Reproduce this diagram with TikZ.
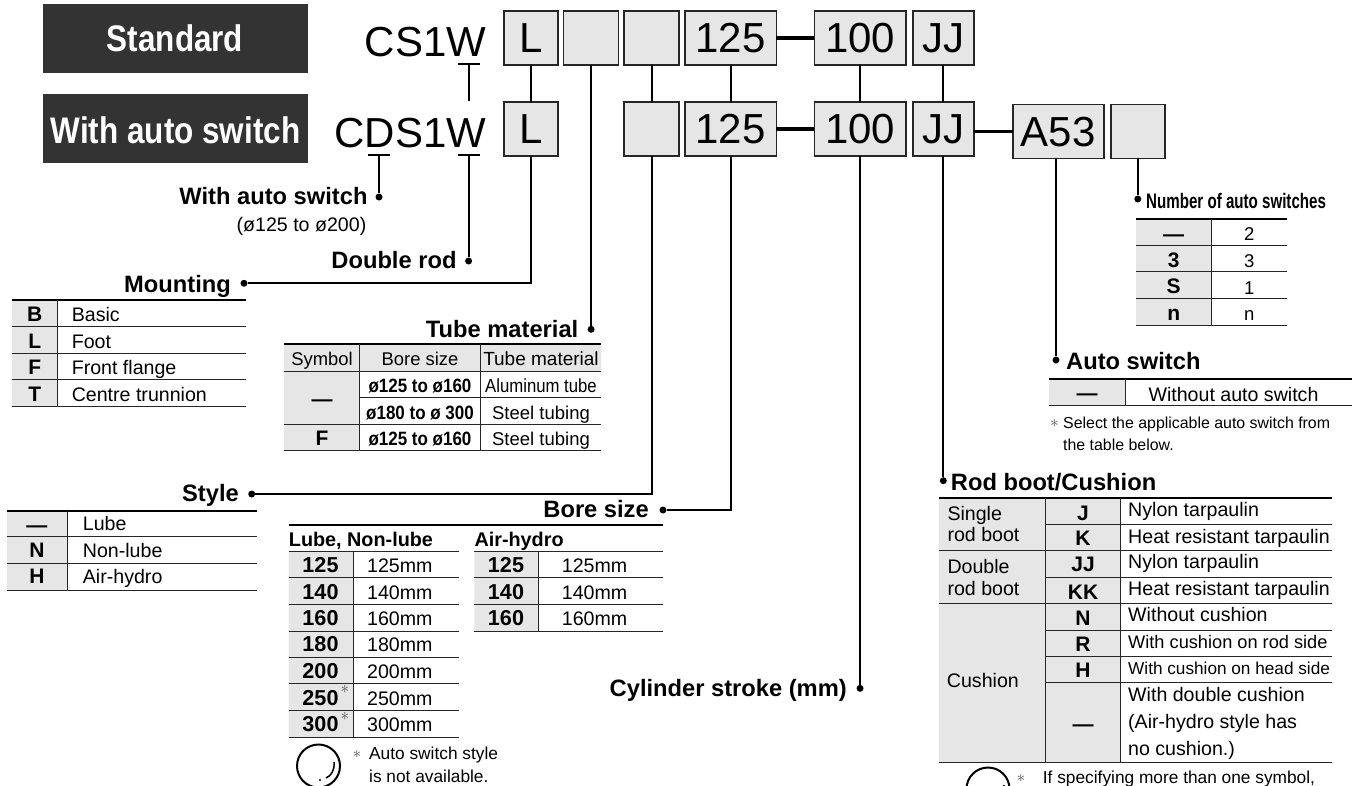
\documentclass[tikz,border=0pt]{standalone}
\usepackage{fontspec}
\setmainfont{Liberation Sans}
\newfontfamily\bannerfont[FakeStretch=.85]{Liberation Sans}
\newfontfamily\narrowfont[FakeStretch=.88]{Liberation Sans}
\newfontfamily\numberfont[FakeStretch=.72]{Liberation Sans}
\usetikzlibrary{positioning}
\definecolor{cylbanner}{HTML}{333333}
\definecolor{cylcell}{HTML}{E6E6E6}
\definecolor{cylstar}{HTML}{555555}
\begin{document}
\begin{tikzpicture}[
    x=1pt, y=-1pt,
    banner/.style={rectangle, fill=cylbanner, minimum width=265pt, minimum height=69pt, inner sep=0, outer sep=0},
    bannertext/.style={inner sep=0, anchor=base, text=white, font=\fontsize{37}{40}\bannerfont\bfseries},
    model/.style={inner sep=0, anchor=base east, font=\fontsize{42}{44}\selectfont},
    box/.style={rectangle, draw=black!85, line width=1.6pt, fill=cylcell, minimum height=53.7pt, inner sep=0, outer sep=0,
      text height=30pt, text depth=0pt, font=\fontsize{42}{44}\selectfont},
    wire/.style={line width=2.1pt},
    hyphen/.style={line width=3.6pt},
    bar/.style={rectangle, fill=black, minimum width=22pt, minimum height=1.8pt, inner sep=0, outer sep=0},
    dot/.style={circle, fill=black, minimum size=7pt, inner sep=0},
    head/.style={inner sep=0, anchor=base east, font=\fontsize{23.7}{26}\selectfont\bfseries},
    headl/.style={head, anchor=base west},
    code/.style={inner sep=0, anchor=base, font=\fontsize{21}{24}\selectfont\bfseries},
    txt/.style={inner sep=0, anchor=base west, font=\fontsize{19.6}{22}\selectfont},
    midtxt/.style={txt, anchor=base},
    small/.style={inner sep=0, anchor=base west, font=\fontsize{17.3}{20}\selectfont},
    starmark/.style={inner sep=0, text=cylstar, font=\fontsize{17}{18}\selectfont},
    toprule/.style={line width=2.2pt},
    rule/.style={line width=1pt, black!85},
    ring/.style={line width=2pt}
  ]
  \path[use as bounding box, clip] (0,0) rectangle (1352,785);

  % banners and model names
  \node[banner] (stdbanner) at (175.5,38.5) {};
  \node[banner] (autobanner) at (175.5,128.5) {};
  \node[bannertext] (stdtext) at (175,51.7) {Standard};
  \node[bannertext] (autotext) at (175.5,143.3) {With auto switch};
  \node[model] (stdmodel) at (486.4,56.7) {CS1W};
  \node[model] (automodel) at (486.4,147.7) {CDS1W};

  % order code boxes
  \node[box, minimum width=54pt] (toplube) at (531,37.85) {L};
  \node[box, minimum width=55pt, right=5.6pt of toplube] (toptube) {};
  \node[box, minimum width=55pt, right=5.6pt of toptube] (topstyle) {};
  \node[box, minimum width=91.5pt, right=5.6pt of topstyle] (topbore) {125};
  \node[box, minimum width=91.5pt, right=38pt of topbore] (topstroke) {100};
  \node[box, minimum width=61pt, right=7pt of topstroke] (topboot) {JJ};
  \node[box, minimum width=54pt, below=37.3pt of toplube] (lowlube) {L};
  \node[box, minimum width=55pt, below=37.3pt of topstyle] (lowstyle) {};
  \node[box, minimum width=91.5pt, below=37.3pt of topbore] (lowbore) {125};
  \node[box, minimum width=91.5pt, below=37.3pt of topstroke] (lowstroke) {100};
  \node[box, minimum width=61pt, below=37.3pt of topboot] (lowboot) {JJ};
  \node[box, minimum width=91pt, right=39pt of lowboot, yshift=-2.6pt] (lowswitch) {A53};
  \node[box, minimum width=54pt, right=7pt of lowswitch] (lowcount) {};

  \draw[hyphen] (topbore) -- (topstroke);
  \draw[hyphen] (lowbore) -- (lowstroke);
  \draw[hyphen] (lowboot.east |- lowswitch) -- (lowswitch);

  \node[bar] (wtop) at (468.6,64) {};
  \node[bar] (wlow) at (468.6,155) {};
  \node[bar] (dlow) at (379,155) {};
  \coordinate (wgap) at (468.6,101);

  \draw[wire] (wtop) -- (wgap);
  \draw[wire] (toplube) -- (lowlube);
  \draw[wire] (topstyle) -- (lowstyle);
  \draw[wire] (topbore) -- (lowbore);
  \draw[wire] (topstroke) -- (lowstroke);
  \draw[wire] (topboot) -- (lowboot);

  % heads with their dots
  \node[dot] (autodot) at (dlow |- 0,197) {};
  \node[dot] (rodot) at (wlow |- 0,261) {};
  \node[dot] (mountdot) at (244,283.3) {};
  \node[dot] (tubedot) at (toptube |- 0,329.3) {};
  \node[dot] (styledot) at (251.7,494) {};
  \node[dot] (boredot) at (663,510) {};
  \node[dot] (strokedot) at (lowstroke |- 0,688.3) {};
  \node[dot] (countdot) at (lowcount |- 0,199) {};
  \node[dot] (switchdot) at (1056,360) {};
  \node[dot] (bootdot) at (lowboot |- 0,480.7) {};

  \draw[wire] (dlow) -- (autodot);
  \draw[wire] (wlow) -- (rodot);
  \draw[wire] (mountdot) -| (lowlube);
  \draw[wire] (toptube) -- (tubedot);
  \draw[wire] (styledot) -| (lowstyle);
  \draw[wire] (boredot) -| (lowbore);
  \draw[wire] (lowstroke) -- (strokedot);
  \draw[wire] (lowcount) -- (countdot);
  \draw[wire] (lowswitch.south -| switchdot) -- (switchdot);
  \draw[wire] (lowboot) -- (bootdot);

  \node[head] (autohead) at (367.7,204) {With auto switch};
  \node[txt, anchor=base east] (autorange) at (366.5,231) {(ø125 to ø200)};
  \node[head] (rodhead) at (456.7,268) {Double rod};
  \node[head] (mounthead) at (231,292) {Mounting};
  \node[head] (tubehead) at (578.5,337) {Tube material};
  \node[head] (stylehead) at (239,501.7) {Style};
  \node[head] (borehead) at (649,517.7) {Bore size};
  \node[head] (strokehead) at (847,696) {Cylinder stroke (mm)};
  \node[inner sep=0, anchor=base west, font=\fontsize{21}{24}\numberfont\bfseries] (counthead) at (1146,208.3) {Number of auto switches};
  \node[headl] (switchhead) at (1066,369) {Auto switch};
  \node[headl] (boothead) at (950.7,490) {Rod boot/Cushion};

  % mounting table
  \fill[cylcell] (12,300) rectangle (57.7,406);
  \draw[toprule] (12,300) -- (246,300);
  \foreach \y in {326.3,353,379.3,406} \draw[rule] (12,\y) -- (246,\y);
  \draw[rule] (57.7,300) -- (57.7,406);
  \foreach \c/\t/\y [count=\i] in {B/Basic/321.7,L/Foot/348.2,F/Front flange/374.5,T/Centre trunnion/401.5} {
    \node[code] (mountcode\i) at (34.8,\y) {\c};
    \node[txt] (mounttext\i) at (71.6,\y) {\t};
  }

  % tube material table
  \fill[cylcell] (284,344.3) rectangle (601.4,371.3) (284,371.3) rectangle (359.8,450.7);
  \draw[toprule] (284,344.3) -- (601.4,344.3);
  \draw[rule] (284,371.3) -- (601.4,371.3);
  \draw[rule] (359.8,397.7) -- (601.4,397.7);
  \draw[rule] (284,424.3) -- (601.4,424.3);
  \draw[rule] (284,450.7) -- (601.4,450.7);
  \draw[rule] (359.8,344.3) -- (359.8,450.7);
  \draw[rule] (480.4,344.3) -- (480.4,450.7);
  \node[midtxt, font=\fontsize{18.4}{20}\selectfont] (tubecol1) at (322,365.7) {Symbol};
  \node[midtxt, font=\fontsize{18.4}{20}\selectfont] (tubecol2) at (420,365.7) {Bore size};
  \node[midtxt, font=\fontsize{19}{20}\selectfont] (tubecol3) at (541,365.7) {Tube material};
  \node[code] (tubecode1) at (322,406) {—};
  \node[code] (tubecode2) at (322,445) {F};
  \foreach \b/\t/\y [count=\i] in {ø125 to ø160/Aluminum tube/392.3,ø180 to ø 300/Steel tubing/419,ø125 to ø160/Steel tubing/445} {
    \node[inner sep=0, anchor=base, font=\fontsize{19.3}{20}\narrowfont\bfseries] (tubebore\i) at (420,\y) {\b};
    \node[midtxt, font=\fontsize{18.5}{20}\selectfont] (tubetext\i) at (541,\y) {\ifnum\i=1 {\fontsize{19}{20}\narrowfont\t}\else\t\fi};
  }

  % style table
  \fill[cylcell] (7,510.7) rectangle (67.3,590);
  \draw[toprule] (7,510.7) -- (256.7,510.7);
  \foreach \y in {536.7,563.3,590} \draw[rule] (7,\y) -- (256.7,\y);
  \draw[rule] (67.3,510.7) -- (67.3,590);
  \node[code] (stylecode1) at (37,532) {—};
  \node[code] (stylecode2) at (37,557.3) {N};
  \node[code] (stylecode3) at (37,583.5) {H};
  \node[txt] (styletext1) at (82.7,530.7) {Lube};
  \node[txt] (styletext2) at (82.7,557.3) {Non-lube};
  \node[txt] (styletext3) at (82.7,583.5) {Air-hydro};

  % bore size tables
  \fill[cylcell] (288.7,551.3) rectangle (353,737) (474.3,551.3) rectangle (538,631);
  \draw[toprule] (288.7,524.7) -- (663,524.7);
  \foreach \y in {551.3,577.7,604.3,631,657.3,683.7,710.3,737} \draw[rule] (288.7,\y) -- (459,\y);
  \foreach \y in {551.3,577.7,604.3,631} \draw[rule] (474.3,\y) -- (663,\y);
  \draw[rule] (353,551.3) -- (353,737);
  \draw[rule] (538,551.3) -- (538,631);
  \node[inner sep=0, anchor=base west, font=\fontsize{19.8}{22}\selectfont\bfseries] (lubehead) at (288.7,546) {Lube, Non-lube};
  \node[inner sep=0, anchor=base west, font=\fontsize{19.8}{22}\selectfont\bfseries] (hydrohead) at (474.3,546) {Air-hydro};
  \foreach \v/\y [count=\i] in {125/572.7,140/599,160/625.7,180/651.7,200/678.3,250/705,300/731.7} {
    \node[code, font=\fontsize{21.6}{24}\selectfont\bfseries] (lubecode\i) at (320.5,\y) {\v};
    \node[txt] (lubetext\i) at (367,\y) {\v mm};
  }
  \foreach \v/\y [count=\i] in {125/572.7,140/599,160/625.7} {
    \node[code, font=\fontsize{21.6}{24}\selectfont\bfseries] (hydrocode\i) at (506,\y) {\v};
    \node[txt] (hydrotext\i) at (561.7,\y) {\v mm};
  }
  \node[starmark] (lubestar1) at (345,689) {$\ast$};
  \node[starmark] (lubestar2) at (345,716) {$\ast$};

  % first note
  \draw[ring] (318.5,766) circle (21.5pt);
  \draw[ring, line width=1.5pt] (334,762) .. controls (335,770) and (331,776) .. (326,778);
  \fill (320,780) circle (1.1pt);
  \node[starmark] (notestar1) at (357,754) {$\ast$};
  \node[small] (note1a) at (369,759) {Auto switch style};
  \node[small] (note1b) at (369,782) {is not available.};

  % number of auto switches table
  \fill[cylcell] (1136,219.3) rectangle (1211.3,325);
  \draw[toprule] (1136,219.3) -- (1287.3,219.3);
  \foreach \y in {245,271.7,298.3,325} \draw[rule] (1136,\y) -- (1287.3,\y);
  \draw[rule] (1211.3,219.3) -- (1211.3,325);
  \foreach \c/\t/\y/\z [count=\i] in {—/2/241/240.7,3/3/267.7/267.7,S/1/293.5/294,n/n/320/320} {
    \node[code] (countcode\i) at (1173.7,\y) {\c};
    \node[midtxt, font=\fontsize{18.5}{20}\selectfont] (counttext\i) at (1249.3,\z) {\t};
  }

  % auto switch table
  \fill[cylcell] (1049,379) rectangle (1125,405.7);
  \draw[toprule] (1049,379) -- (1352,379);
  \draw[rule] (1049,405.7) -- (1352,405.7);
  \draw[rule] (1125,379) -- (1125,405.7);
  \node[code] (switchcode) at (1087,400.5) {—};
  \node[txt] (switchtext) at (1148.3,401) {Without auto switch};
  \node[starmark] (notestar2) at (1054.5,423) {$\ast$};
  \node[inner sep=0, anchor=base west, font=\fontsize{15.9}{18}\selectfont] (note2a) at (1063,428) {Select the applicable auto switch from};
  \node[inner sep=0, anchor=base west, font=\fontsize{15.9}{18}\selectfont] (note2b) at (1063,450) {the table below.};

  % rod boot and cushion table
  \fill[cylcell] (939.3,497.7) rectangle (1120.7,762.3);
  \draw[toprule] (939.3,497.7) -- (1332.3,497.7);
  \foreach \y in {550.7,603.3,762.3} \draw[rule] (939.3,\y) -- (1332.3,\y);
  \foreach \y in {524,577.3,630,656.7,682.7} \draw[rule] (1045,\y) -- (1332.3,\y);
  \draw[rule] (1045,497.7) -- (1045,762.3);
  \draw[rule] (1120.7,497.7) -- (1120.7,762.3);
  \node[txt] (bootgroup1a) at (947.3,520) {Single};
  \node[txt] (bootgroup1b) at (947.3,541.7) {rod boot};
  \node[txt] (bootgroup2a) at (947.3,573) {Double};
  \node[txt] (bootgroup2b) at (947.3,595) {rod boot};
  \node[txt] (bootgroup3) at (946.7,687.3) {Cushion};
  \foreach \c/\y [count=\i] in {J/520,K/545,JJ/571.7,KK/599,N/625,R/651.7,H/677.7,—/731} {
    \node[code] (bootcode\i) at (1083,\y) {\c};
  }
  \foreach \t/\y [count=\i] in {Nylon tarpaulin/516.7,Heat resistant tarpaulin/543.3,Nylon tarpaulin/568.3,Heat resistant tarpaulin/595,Without cushion/621.7} {
    \node[txt] (boottext\i) at (1128,\y) {\t};
  }
  \node[txt, font=\fontsize{18.2}{20}\selectfont] (boottext6) at (1128,648.3) {With cushion on rod side};
  \node[txt, font=\fontsize{17.2}{20}\selectfont] (boottext7) at (1128,674.3) {With cushion on head side};
  \node[txt] (boottext8a) at (1128,701.7) {With double cushion};
  \node[txt] (boottext8b) at (1128,728.3) {(Air-hydro style has};
  \node[txt] (boottext8c) at (1128,755) {no cushion.)};

  % second note, cut by the page
  \draw[ring] (988,789) circle (21.5pt);
  \draw[ring, line width=1.5pt] (1004,785) -- (1003.5,790);
  \node[starmark] (notestar3) at (1021,778) {$\ast$};
  \node[small] (note3) at (1042.7,783) {If specifying more than one symbol,};
\end{tikzpicture}
\end{document}
